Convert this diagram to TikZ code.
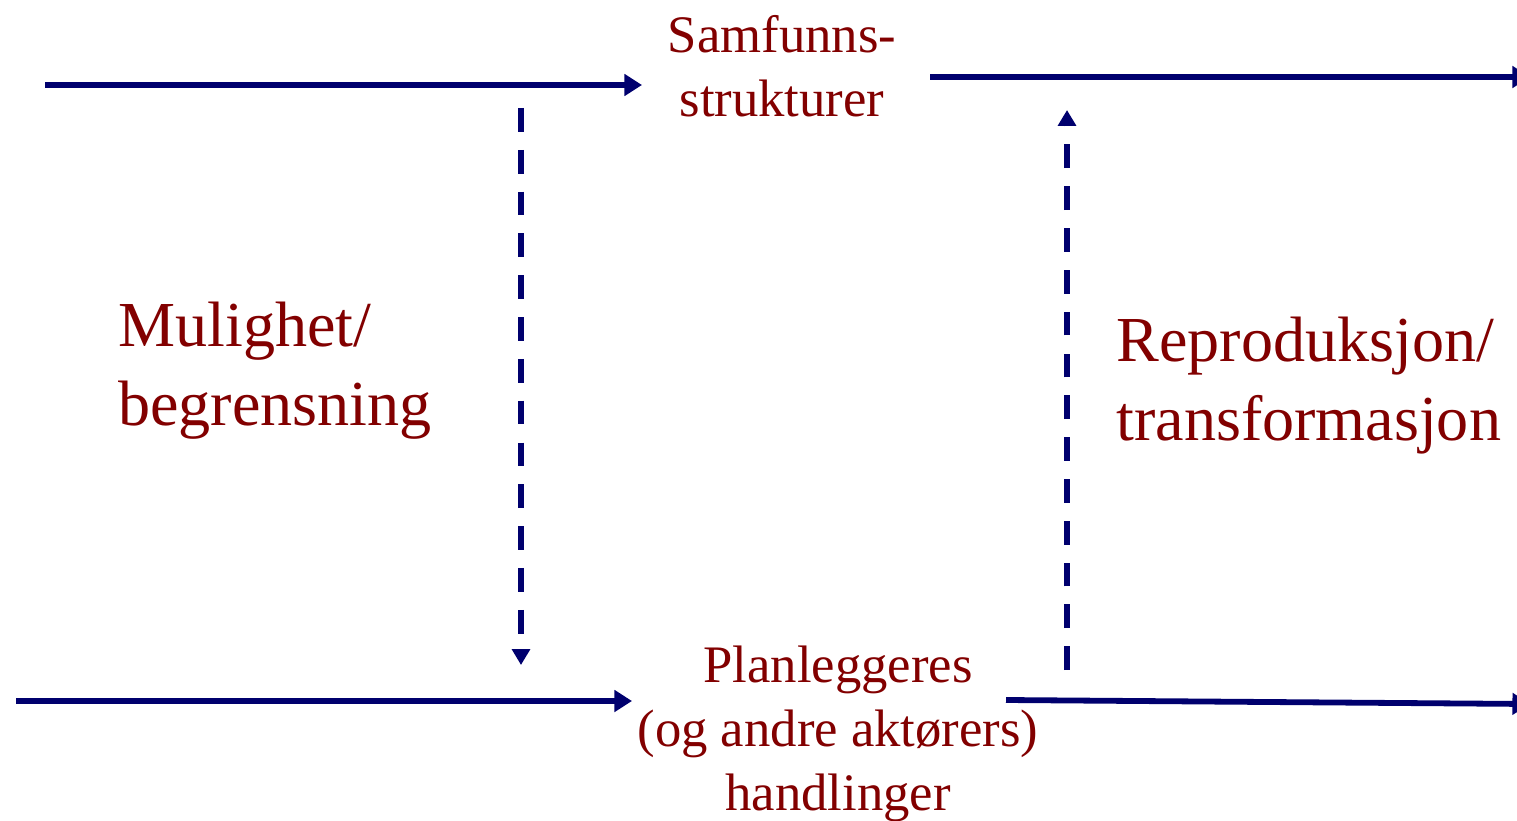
\documentclass[tikz,border=0pt]{standalone}
\usepackage{fontspec}
\setmainfont{Liberation Serif}
\usetikzlibrary{arrows.meta}
\definecolor{navy}{RGB}{0,0,110}
\definecolor{darkred}{RGB}{130,0,0}
\begin{document}
\begin{tikzpicture}[x=0.02cm,y=-0.02cm,
   flow/.style={navy,line width=3.3pt,-{Triangle[length=10pt,width=12pt]}},
   influence/.style={flow,line width=3pt,dash pattern=on 13.5pt off 10.3pt,
                     -{Triangle[length=9pt,width=10pt]}},
   label/.style={darkred,align=center,inner sep=0pt},
   small/.style={label,font=\fontsize{30}{36.5}\selectfont},
   big/.style={label,align=left,font=\fontsize{36.5}{45}\selectfont}]
\useasboundingbox (0,0) rectangle (1517,821);

\node[small] (struct) at (782,66) {Samfunns-\\strukturer};
\node[small] (act) at (838,734) {Planleggeres\\(og andre aktørers)\\handlinger};
\node[big,anchor=west] (constraint) at (118,371) {Mulighet/\\begrensning};
\node[big,anchor=west] (reprod) at (1116,386) {Reproduksjon/\\transformasjon};

\coordinate (topin) at (45,85);
\coordinate (topout) at (1530,77);
\coordinate (botin) at (16,701);
\coordinate (botout) at (1530,704);

\draw[flow] (topin) -- (642,85);
\draw[flow] (930,77) -- (topout);
\draw[flow] (botin) -- (632,701);
\draw[flow] (1006,700) -- (botout);

\draw[influence] (521,108) -- (521,665);
\draw[influence] (1067,670) -- (1067,110);
\end{tikzpicture}
\end{document}
